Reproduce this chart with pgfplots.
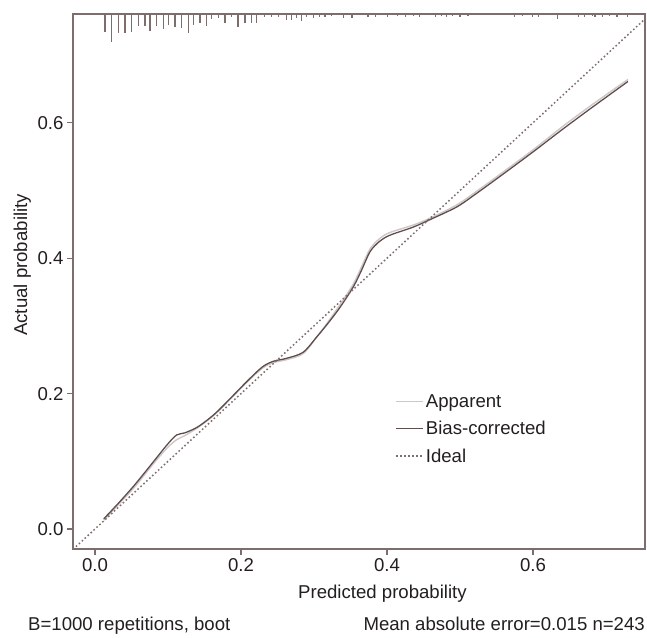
\documentclass[border=0pt]{standalone}
\usepackage{fontspec}
\setmainfont{Liberation Sans}
\usepackage{pgfplots}
\usepackage{pgfplotstable}
\pgfplotsset{compat=1.18}
\definecolor{axiscol}{HTML}{7D6E6E}
\definecolor{biascol}{HTML}{5E4E4E}
\definecolor{appcol}{HTML}{CFC6C6}
\definecolor{idealcol}{HTML}{7E6E6E}
\definecolor{textcol}{HTML}{231F20}

\pgfplotstableread{
x l
0.0137 -0.026
0.0229 -0.042
0.0319 -0.0285
0.0411 -0.0285
0.0503 -0.026
0.0593 -0.018
0.0685 -0.018
0.0753 -0.025
0.0845 -0.018
0.0936 -0.0226
0.1004 -0.016
0.1096 -0.019
0.1188 -0.020
0.1278 -0.0285
0.1347 -0.016
0.1438 -0.014
0.1530 -0.018
0.1600 -0.008
0.1690 -0.0064
0.1780 -0.013
0.1870 -0.005
0.1960 -0.019
0.2055 -0.013
0.2147 -0.013
0.2215 -0.014
0.2320 -0.0045
0.2420 -0.0045
0.2510 -0.004
0.2626 -0.009
0.2695 -0.009
0.2760 -0.006
0.2830 -0.010
0.2900 -0.004
0.2990 -0.006
0.3080 -0.004
0.3150 -0.004
0.3240 -0.003
0.3400 -0.006
0.3520 -0.006
0.3740 -0.004
0.3840 -0.004
0.4010 -0.004
0.4140 -0.003
0.4250 -0.004
0.4360 -0.003
0.4450 -0.004
0.4660 -0.004
0.4750 -0.003
0.4820 -0.004
0.4900 -0.003
0.5000 -0.004
0.5110 -0.003
0.5750 -0.004
0.5860 -0.003
0.5990 -0.004
0.6070 -0.004
0.6330 -0.007
0.6620 -0.004
0.6710 -0.004
0.6810 -0.003
0.6850 -0.004
0.6950 -0.004
0.7050 -0.003
0.7150 -0.004
0.7290 -0.004
}\rugtable

\begin{document}
\begin{tikzpicture}[font=\fontsize{18.6}{22}\selectfont]
\path[use as bounding box] (-73pt,-88pt) rectangle (574pt,549pt);
\begin{axis}[
  at={(0,0)}, anchor=south west,
  scale only axis, width=572pt, height=535pt,
  xmin=-0.0301, xmax=0.7534, ymin=-0.0295, ymax=0.7607,
  axis line style={axiscol, line width=1.3pt},
  tick style={axiscol, line width=1.3pt},
  tick align=outside, major tick length=6pt,
  xtick={0,0.2,0.4,0.6}, ytick={0,0.2,0.4,0.6},
  xtick pos=left, ytick pos=left,
  minor tick num=0,
  /pgf/number format/assume math mode=true,
  xticklabel style={text=textcol, /pgf/number format/fixed, /pgf/number format/fixed zerofill, /pgf/number format/precision=1},
  yticklabel style={text=textcol, /pgf/number format/fixed, /pgf/number format/fixed zerofill, /pgf/number format/precision=1},
  xlabel={Predicted probability}, ylabel={Actual probability},
  xlabel style={at={(axis description cs:0.541,-0.0916)}, anchor=base, inner sep=0pt, text=textcol},
  ylabel style={at={(axis description cs:-0.0804,0.531)}, anchor=base, inner sep=0pt, text=textcol},
  legend style={draw=none, fill=none, at={(axis description cs:0.558,0.297)}, anchor=north west, row sep=8.5pt, nodes={inner sep=2pt, text=textcol}},
  legend cell align=left,
  legend image code/.code={\draw[#1] (0pt,0pt) -- (27pt,0pt);},
]
\addplot[axiscol, line width=1.2pt, forget plot, quiver={u=0, v=\thisrow{l}}] table[x=x, y expr=0.7607] {\rugtable};

\addplot[appcol, line width=1.4pt, smooth] coordinates {
(0.012,0.013) (0.032,0.036) (0.055,0.063) (0.082,0.099) (0.100,0.121) (0.112,0.132) (0.123,0.138)
(0.141,0.150) (0.164,0.169) (0.19,0.197) (0.21,0.219) (0.23,0.238) (0.245,0.246) (0.262,0.250)
(0.285,0.259) (0.304,0.284) (0.32,0.307) (0.336,0.332) (0.354,0.362) (0.365,0.387) (0.377,0.414)
(0.39,0.429) (0.404,0.438) (0.436,0.449) (0.463,0.461) (0.496,0.479) (0.523,0.499) (0.56,0.528)
(0.6,0.560) (0.64,0.594) (0.68,0.626) (0.73,0.664)
};
\addlegendentry{Apparent}

\addplot[biascol, line width=1.3pt, smooth] coordinates {
(0.012,0.015) (0.032,0.038) (0.055,0.066) (0.082,0.102) (0.100,0.126) (0.112,0.139) (0.123,0.142)
(0.141,0.151) (0.164,0.170) (0.19,0.198) (0.21,0.22) (0.23,0.240) (0.245,0.248) (0.262,0.252)
(0.285,0.261) (0.304,0.284) (0.32,0.305) (0.336,0.328) (0.354,0.358) (0.365,0.382) (0.377,0.41)
(0.39,0.425) (0.404,0.434) (0.436,0.446) (0.463,0.459) (0.496,0.476) (0.523,0.496) (0.56,0.525)
(0.6,0.557) (0.64,0.59) (0.68,0.622) (0.73,0.661)
};
\addlegendentry{Bias-corrected}

\addplot[idealcol, line width=1.5pt, dash pattern=on 1.6pt off 2.4pt] coordinates {(-0.0301,-0.0301) (0.7534,0.7534)};
\addlegendentry{Ideal}
\end{axis}
\node[anchor=base west, inner sep=0pt, text=textcol] at (-45pt,-81pt) {B=1000 repetitions, boot};
\node[anchor=base east, inner sep=0pt, text=textcol] at (572pt,-81pt) {Mean absolute error=0.015 n=243};
\end{tikzpicture}
\end{document}
